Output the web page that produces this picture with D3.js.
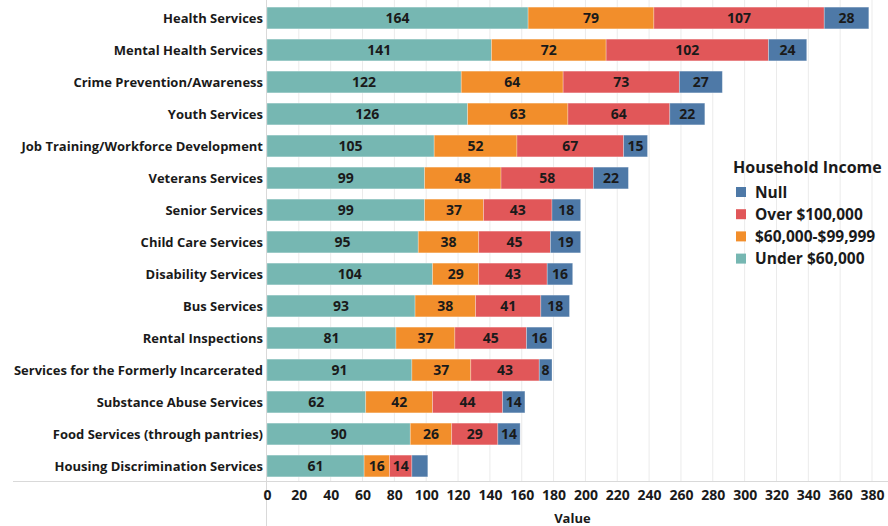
<!DOCTYPE html>
<html><head><meta charset="utf-8">
<script src="https://cdn.jsdelivr.net/npm/d3@7"></script>
<style>
body{margin:0;background:#fff;}
text{font-family:"Open Sans", Lato, sans-serif;font-weight:700;fill:#1a1a1a;}
</style></head>
<body><svg id="chart" width="888" height="526"></svg>
<script>
const categories = ["Health Services","Mental Health Services","Crime Prevention/Awareness","Youth Services","Job Training/Workforce Development","Veterans Services","Senior Services","Child Care Services","Disability Services","Bus Services","Rental Inspections","Services for the Formerly Incarcerated","Substance Abuse Services","Food Services (through pantries)","Housing Discrimination Services"];
const under60k = [164,141,122,126,105,99,99,95,104,93,81,91,62,90,61];
const mid60to100k = [79,72,64,63,52,48,37,38,29,38,37,37,42,26,16];
const over100k = [107,102,73,64,67,58,43,45,43,41,45,43,44,29,14];
const nullIncome = [28,24,27,22,15,22,18,19,16,18,16,8,14,14,10];
const seriesNames = ["Under $60,000","$60,000-$99,999","Over $100,000","Null"];
const seriesColors = ["#76B7B2","#F28E2B","#E15759","#4E79A7"];
const legendOrder = ["Null","Over $100,000","$60,000-$99,999","Under $60,000"];
const xTicks = d3.range(0,381,20);
// labels Tableau hid because they did not fit
const hiddenLabels = [["Housing Discrimination Services","Null"]];

const seriesValues = [under60k, mid60to100k, over100k, nullIncome];
const rows = categories.map((c,i)=>{const o={category:c}; seriesNames.forEach((s,j)=>o[s]=seriesValues[j][i]); return o;});
const stack = d3.stack().keys(seriesNames)(rows);

const svg = d3.select("#chart");
const x0 = 267, x1 = 872;
const x = d3.scaleLinear().domain([0,380]).range([x0,x1]);
const y = d3.scaleBand().domain(categories).range([2,482]).paddingInner(0.32).paddingOuter(0.16);
const color = d3.scaleOrdinal().domain(seriesNames).range(seriesColors);

// gridlines
svg.append("g").selectAll("line").data(xTicks.slice(1)).join("line")
  .attr("x1",d=>x(d)).attr("x2",d=>x(d)).attr("y1",0).attr("y2",481)
  .attr("stroke","#ebebeb").attr("stroke-width",1);

// bars
const g = svg.append("g");
stack.forEach(layer=>{
  g.append("g").selectAll("rect").data(layer).join("rect")
    .attr("x",d=>x(d[0])).attr("width",d=>x(d[1])-x(d[0]))
    .attr("y",d=>y(d.data.category)).attr("height",y.bandwidth())
    .attr("fill",color(layer.key))
    .attr("stroke","rgba(255,255,255,0.35)").attr("stroke-width",0.8);
});
stack.forEach(layer=>{
  g.append("g").selectAll("text").data(layer.filter(d=>!hiddenLabels.some(h=>h[0]===d.data.category&&h[1]===layer.key))).join("text")
    .attr("x",d=>(x(d[0])+x(d[1]))/2).attr("y",d=>y(d.data.category)+y.bandwidth()/2)
    .attr("dy","0.36em").attr("text-anchor","middle").style("font-size","14px")
    .text(d=>d[1]-d[0]);
});

// axis lines
svg.append("line").attr("x1",13).attr("x2",888).attr("y1",481.5).attr("y2",481.5).attr("stroke","#d9d9d9");
svg.append("line").attr("x1",266.5).attr("x2",266.5).attr("y1",0).attr("y2",526).attr("stroke","#d9d9d9");

// y labels
svg.append("g").selectAll("text").data(categories).join("text")
  .attr("x",263).attr("y",d=>y(d)+y.bandwidth()/2).attr("dy","0.36em")
  .attr("text-anchor","end").style("font-size","13px").text(d=>d);

// x axis
const xAxis = d3.axisBottom(x).tickValues(xTicks).tickSize(0).tickPadding(0);
const ax = svg.append("g").attr("transform","translate(0,490)").call(xAxis);
ax.select(".domain").remove();
ax.selectAll("text").style("font-size","14px").attr("dy","0.71em").attr("fill","#1a1a1a")
  .attr("font-family",null);
svg.append("text").attr("x",x(200)-13).attr("y",523).attr("text-anchor","middle").style("font-size","13px").text("Value");

// legend
const lg = svg.append("g").attr("transform","translate(733,0)");
lg.append("text").attr("x",0).attr("y",173).style("font-size","16px").text("Household Income");
const li = lg.selectAll("g.item").data(legendOrder).join("g").attr("class","item")
  .attr("transform",(d,i)=>`translate(0,${192+i*22.2})`);
li.append("rect").attr("x",3).attr("y",-5).attr("width",10).attr("height",10).attr("fill",d=>color(d));
li.append("text").attr("x",22).attr("y",0).attr("dy","0.36em").style("font-size","15.5px").text(d=>d);
</script></body></html>
